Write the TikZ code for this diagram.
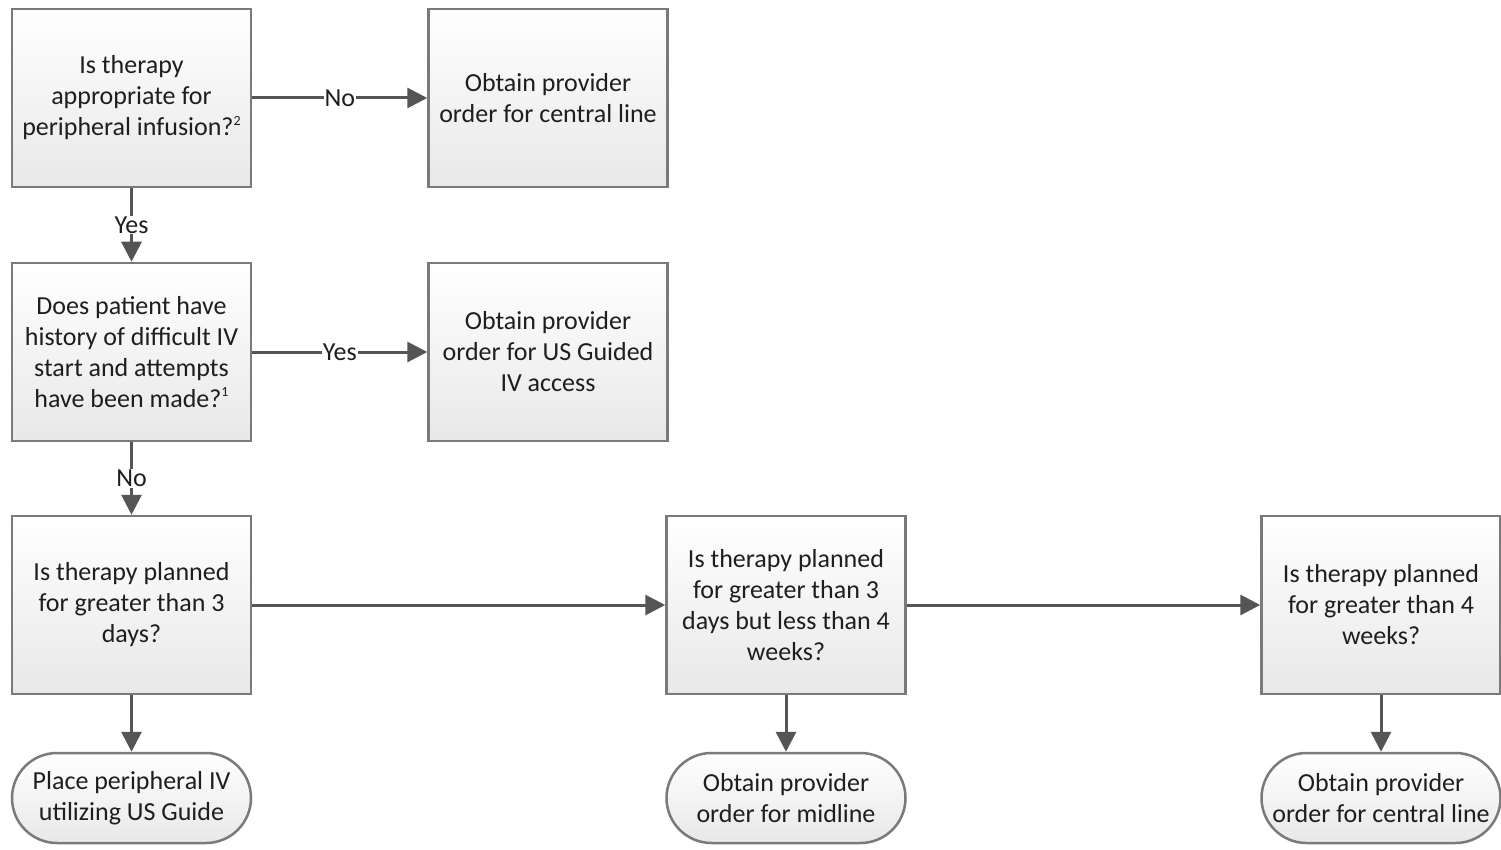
\documentclass[tikz,border=0pt]{standalone}
\usepackage{fontspec}
\setmainfont{Carlito}
\usetikzlibrary{arrows.meta,shapes.misc}
\definecolor{boxline}{HTML}{7A7A7A}
\definecolor{connline}{HTML}{555555}
\definecolor{boxbot}{HTML}{E8E8E8}
\definecolor{txt}{HTML}{1E1E1E}
\newcommand{\supnum}[1]{\raisebox{0.42em}{\fontsize{14}{14}\selectfont #1}}
\begin{document}
\begin{tikzpicture}[x=1pt,y=-1pt,
  every node/.style={font=\fontsize{26}{31}\selectfont, text=txt},
  procbox/.style={rectangle, draw=boxline, line width=2.5pt, top color=white, bottom color=boxbot,
    minimum width=239pt, minimum height=178pt, align=center, inner sep=2pt},
  termbox/.style={rounded rectangle, draw=boxline, line width=2.5pt, top color=white, bottom color=boxbot,
    minimum width=239pt, minimum height=90pt, align=center, inner sep=0pt},
  conn/.style={draw=connline, line width=3pt, -{Triangle[length=20pt,width=20pt]}},
  lbl/.style={fill=white, inner sep=1pt}
]
\useasboundingbox (0,0) rectangle (1501,850);
\fill[white] (0,0) rectangle (1501,850);

\node[procbox] (b1) at (131.5,98) {Is therapy\\appropriate for\\peripheral infusion?\supnum{2}};
\node[procbox] (b2) at (548,98) {Obtain provider\\order for central line};
\node[procbox] (b3) at (131.5,352) {Does patient have\\history of difficult IV\\start and attempts\\have been made?\supnum{1}};
\node[procbox] (b4) at (548,352) {Obtain provider\\order for US Guided\\IV access};
\node[procbox] (b5) at (131.5,605) {Is therapy planned\\for greater than 3\\days?};
\node[procbox] (b6) at (786,605) {Is therapy planned\\for greater than 3\\days but less than 4\\weeks?};
\node[procbox] (b7) at (1381,605) {Is therapy planned\\for greater than 4\\weeks?};

\node[termbox] (t1) at (131.5,798) {Place peripheral IV\\utilizing US Guide};
\node[termbox] (t2) at (786,798) {Obtain provider\\order for midline};
\node[termbox] (t3) at (1381,798) {Obtain provider\\order for central line};

\draw[conn] (b1) -- node[lbl]{No} (b2);
\draw[conn] (b1) -- node[lbl]{Yes} (b3);
\draw[conn] (b3) -- node[lbl]{Yes} (b4);
\draw[conn] (b3) -- node[lbl]{No} (b5);
\draw[conn] (b5) -- (b6);
\draw[conn] (b6) -- (b7);
\draw[conn] (b5) -- (t1);
\draw[conn] (b6) -- (t2);
\draw[conn] (b7) -- (t3);
\end{tikzpicture}
\end{document}
